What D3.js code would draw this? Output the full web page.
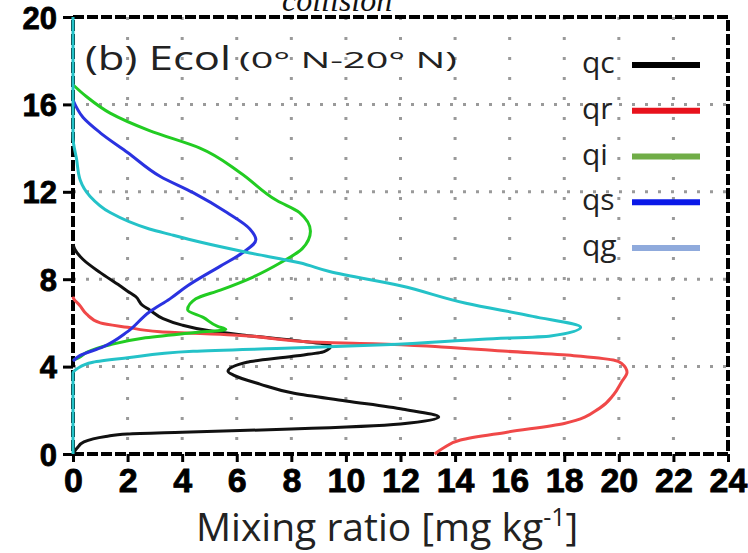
<!DOCTYPE html>
<html>
<head>
<meta charset="utf-8">
<script src="https://cdn.jsdelivr.net/npm/d3@7"></script>
<style>
  body { margin: 0; background: #fff; }
</style>
</head>
<body>
<svg id="chart" width="748" height="553"></svg>
<script>
const width = 748;
const height = 553;

// Profiles as [height (km), mixing ratio (mg/kg)]
const qc = [[0,0],[0.27,0.15],[0.55,0.4],[0.8,1.2],[0.92,2],[1.0,4],[1.14,8],[1.37,12],[1.69,13.4],
  [2.05,12.1],[2.43,10],[2.78,8.1],[3.2,6.85],[3.6,5.9],[3.79,5.68],[4.2,6.37],[4.47,8.06],[4.68,9.2],
  [4.95,9.45],[5.2,8.1],[5.45,6.2],[5.66,4.9],[5.9,4.0],[6.2,3.3],[6.6,2.8],[6.8,2.55],[7.2,2.3],
  [7.45,2.0],[7.7,1.72],[8.3,1.0],[8.9,0.37],[9.36,0.07],[9.6,0]];
const qr = [[0,13.25],[0.3,13.6],[0.64,14.2],[1.0,15.9],[1.4,18.0],[2.1,19.3],[2.7,19.8],[3.3,20.1],
  [3.74,20.3],[4.15,20.1],[4.3,19.8],[4.5,18.35],[4.7,15.9],[4.9,13.5],[5.05,11.0],[5.1,9.3],
  [5.45,5.86],[5.6,3.19],[5.8,2.0],[6.0,1.0],[6.4,0.5],[6.8,0.25],[7.1,0.03],[7.2,0]];
const qi = [[4.3,0],[4.4,0.2],[4.65,0.5],[5.0,1.36],[5.3,2.55],[5.55,4.4],[5.7,5.6],[5.84,5.3],
  [6.25,4.77],[6.6,4.2],[7.1,4.5],[7.5,5.4],[8.1,6.6],[8.75,7.6],[9.4,8.4],[10.2,8.7],[11.05,8.3],
  [11.6,7.47],[12.9,6.1],[14.0,4.65],[14.8,2.8],[15.6,1.36],[16.35,0.5],[16.9,0]];
const qs = [[4.25,0],[4.5,0.25],[4.9,1.1],[5.6,2.0],[6.5,2.8],[7.1,3.55],[7.7,4.2],[8.6,5.4],
  [9.2,6.2],[9.8,6.7],[10.3,6.48],[11.05,5.64],[11.96,4.4],[12.7,3.2],[13.8,2.0],[14.7,1.0],
  [15.4,0.37],[16.2,0]];
const qg = [[0,0],[3.7,0],[3.9,0.15],[4.2,0.73],[4.4,2.0],[4.7,4.4],[4.85,8.0],[5.0,11.4],[5.25,15.0],
  [5.4,17.5],[5.8,18.6],[6.3,16.85],[6.9,14.4],[7.7,12.0],[8.35,9.4],[8.75,8.3],[9.2,6.48],
  [9.7,4.65],[10.05,3.55],[10.3,2.8],[11.05,1.36],[11.8,0.62],[12.55,0.26],[13.5,0.13],[14.5,0],[20,0]];

const seriesNames = ["qc", "qr", "qi", "qs", "qg"];
const lineColors = ["#111111", "#f04848", "#22cc22", "#2a32e0", "#24c2c8"];
const legendColors = ["#000000", "#e8121c", "#70ad47", "#0a18e8", "#8faadc"];

const xTicks = d3.range(0, 25, 2);
const yTicks = [0, 4, 8, 12, 16, 20];

const x = d3.scaleLinear().domain([0, 24]).range([73, 728]);
const y = d3.scaleLinear().domain([0, 20]).range([454, 17]);

const svg = d3.select("#chart");

// top caption, cut off by the picture edge as in the source figure
svg.append("text")
    .attr("x", 282)
    .attr("y", 11)
    .style("font-family", "'Liberation Serif', serif")
    .style("font-style", "italic")
    .style("font-size", "32px")
    .attr("fill", "#111")
    .text("collision");

// Dotted grid
svg.append("g")
    .selectAll("line")
    .data(xTicks.filter(d => d > 0 && d < 24))
    .join("line")
    .attr("x1", d => x(d)).attr("x2", d => x(d))
    .attr("y1", y(20)).attr("y2", y(0))
    .attr("stroke", "#9a9a9a")
    .attr("stroke-width", 3)
    .attr("stroke-dasharray", "3,17");

svg.append("g")
    .selectAll("line")
    .data(yTicks.filter(d => d > 0 && d < 20))
    .join("line")
    .attr("x1", x(0)).attr("x2", x(24))
    .attr("y1", d => y(d)).attr("y2", d => y(d))
    .attr("stroke", "#9a9a9a")
    .attr("stroke-width", 3)
    .attr("stroke-dasharray", "3,10");

// Axes
const yAxis = svg.append("g")
    .attr("transform", `translate(${x(0)},0)`)
    .call(d3.axisLeft(y).tickValues(yTicks).tickSize(10).tickPadding(6).tickFormat(d3.format("d")));
const xAxis = svg.append("g")
    .attr("transform", `translate(0,${y(0)})`)
    .call(d3.axisBottom(x).tickValues(xTicks).tickSize(8).tickPadding(6).tickFormat(d3.format("d")));

[yAxis, xAxis].forEach(g => {
    g.select(".domain").remove();
    g.selectAll(".tick line").attr("stroke", "#000").attr("stroke-width", 3);
    g.selectAll(".tick text")
        .attr("fill", "#000")
        .style("font-family", "'Liberation Sans', Arial, sans-serif")
        .style("font-weight", "bold")
        .attr("stroke", "#000")
        .attr("stroke-width", 0.8);
});
yAxis.selectAll(".tick text").style("font-size", "31px").attr("dy", "0.36em");
xAxis.selectAll(".tick text").style("font-size", "34px");

// Dashed frame
svg.append("rect")
    .attr("x", x(0)).attr("y", y(20))
    .attr("width", x(24) - x(0)).attr("height", y(0) - y(20))
    .attr("fill", "none")
    .attr("stroke", "#000")
    .attr("stroke-width", 4)
    .attr("stroke-dasharray", "11,3");

// Profiles
const line = d3.line()
    .x(d => x(d[1]))
    .y(d => y(d[0]))
    .curve(d3.curveMonotoneY);

const profiles = [qc, qr, qi, qs, qg];
svg.append("g")
    .selectAll("path")
    .data(profiles)
    .join("path")
    .attr("d", d => line(d))
    .attr("fill", "none")
    .attr("stroke", (d, i) => lineColors[i])
    .attr("stroke-width", 3)
    .attr("stroke-linejoin", "round");

// Panel title
svg.append("text")
    .attr("x", 85)
    .attr("y", 70)
    .attr("fill", "#222")
    .style("font-family", "'Open Sans', sans-serif")
    .style("font-size", "33px")
    .attr("textLength", 146)
    .attr("lengthAdjust", "spacingAndGlyphs")
    .text("(b) Ecol");
svg.append("text")
    .attr("x", 239)
    .attr("y", 68)
    .attr("fill", "#222")
    .style("font-family", "'Open Sans', sans-serif")
    .style("font-size", "22px")
    .attr("textLength", 218)
    .attr("lengthAdjust", "spacingAndGlyphs")
    .text("(0°  N-20°  N)");

// Legend
const legendY = d3.scaleLinear().domain([0, 4]).range([73, 256]);
const legend = svg.append("g")
    .selectAll("g")
    .data(seriesNames)
    .join("g")
    .attr("transform", (d, i) => `translate(0,${legendY(i)})`);
legend.append("text")
    .attr("x", 582)
    .attr("y", 0)
    .attr("fill", "#222")
    .style("font-family", "'Open Sans', sans-serif")
    .style("font-size", "30px")
    .text(d => d);
legend.append("line")
    .attr("x1", 632).attr("x2", 700)
    .attr("y1", -8).attr("y2", -8)
    .attr("stroke", (d, i) => legendColors[i])
    .attr("stroke-width", 6);

// X axis title
const xTitle = svg.append("text")
    .attr("x", 196)
    .attr("y", 541)
    .attr("fill", "#222")
    .style("font-family", "'Open Sans', sans-serif")
    .style("font-size", "39px");
xTitle.append("tspan").text("Mixing ratio [mg kg");
xTitle.append("tspan").attr("dy", -15).style("font-size", "25px").text("-1");
xTitle.append("tspan").attr("dy", 15).text("]");
</script>
</body>
</html>
